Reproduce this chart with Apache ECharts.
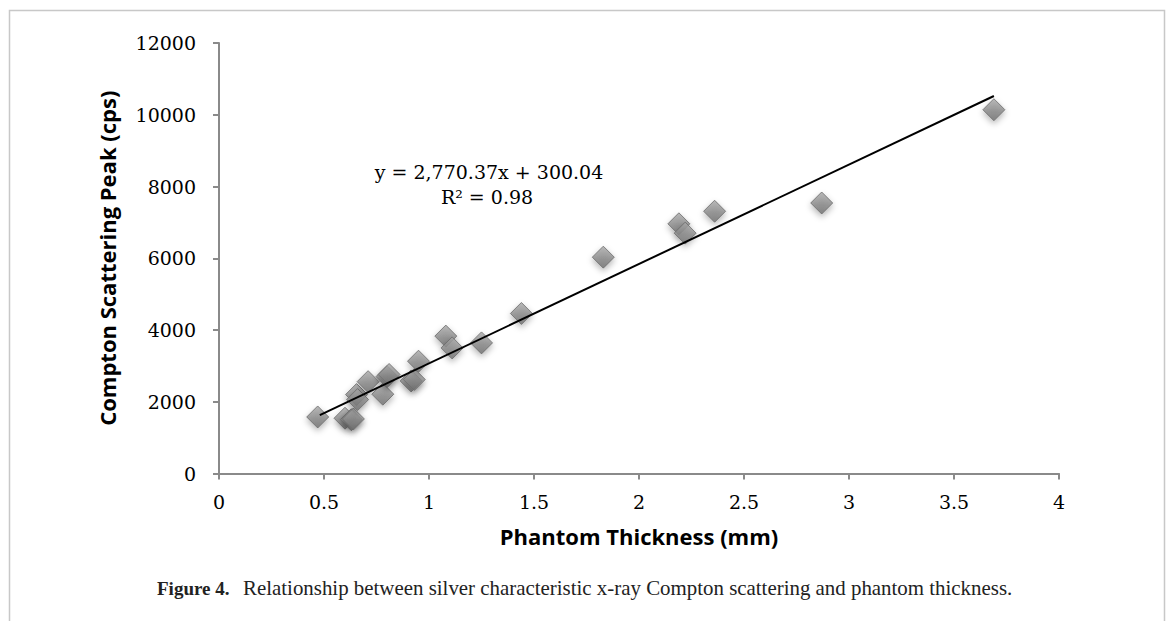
<!DOCTYPE html>
<html>
<head>
<meta charset="utf-8">
<script src="https://cdn.jsdelivr.net/npm/echarts@6/dist/echarts.min.js"></script>
<style>
html,body{margin:0;padding:0;background:#fff;}
#chart{width:1166px;height:621px;}
</style>
</head>
<body>
<div id="chart"></div>
<script>
// ---- data ----
const thickness = [0.47, 0.60, 0.63, 0.64, 0.655, 0.66, 0.71, 0.78, 0.80, 0.81, 0.915, 0.93, 0.95, 1.08, 1.11, 1.25, 1.44, 1.83, 2.19, 2.22, 2.36, 2.87, 3.69];
const peak =      [1575, 1540, 1500, 1520, 2200, 2060, 2560, 2210, 2700, 2760, 2580, 2620, 3130, 3830, 3500, 3640, 4460, 6030, 6960, 6700, 7310, 7540, 10140];
const trendSlope = 2770.37;
const trendIntercept = 300.04;
const trendRange = [0.48, 3.69];
const xTicks = ['0', '0.5', '1', '1.5', '2', '2.5', '3', '3.5', '4'];
const yTicks = ['0', '2000', '4000', '6000', '8000', '10000', '12000'];
const equationText = 'y = 2,770.37x + 300.04';
const r2Text = 'R² = 0.98';
const xName = 'Phantom Thickness (mm)';
const yName = 'Compton Scattering Peak (cps)';
const captionBold = 'Figure 4.';
const captionRest = 'Relationship between silver characteristic x-ray Compton scattering and phantom thickness.';

const points = thickness.map((t, i) => [t, peak[i]]);
const trend = trendRange.map(x => [x, trendSlope * x + trendIntercept]);

const chart = echarts.init(document.getElementById('chart'), null, {renderer: 'svg'});
const serif = '"DejaVu Serif", "Liberation Serif", serif';
const capSerif = '"Liberation Serif", serif';
const sans = '"Open Sans", Lato, sans-serif';

chart.setOption({
  animation: false,
  backgroundColor: '#fff',
  grid: {left: 219, right: 107, top: 43, bottom: 147.5, containLabel: false},
  xAxis: {
    type: 'value', min: 0, max: 4, interval: 0.5,
    name: xName, nameLocation: 'middle', nameGap: 51,
    nameTextStyle: {fontFamily: sans, fontWeight: 'bold', fontSize: 22, color: '#000'},
    axisLine: {show: true, lineStyle: {color: '#8a8a8a', width: 2}},
    axisTick: {show: true, length: 6, lineStyle: {color: '#8a8a8a', width: 2}},
    splitLine: {show: false},
    axisLabel: {fontFamily: serif, fontSize: 19, color: '#000', margin: 19,
      formatter: v => xTicks[Math.round(v / 0.5)]}
  },
  yAxis: {
    type: 'value', min: 0, max: 12000, interval: 2000,
    name: yName, nameLocation: 'middle', nameGap: 101, nameRotate: 90,
    nameMoveOverlap: false,
    nameTextStyle: {fontFamily: sans, fontWeight: 'bold', fontSize: 22, color: '#000'},
    axisLine: {show: true, lineStyle: {color: '#8a8a8a', width: 2}},
    axisTick: {show: true, length: 6, lineStyle: {color: '#8a8a8a', width: 2}},
    splitLine: {show: false},
    axisLabel: {fontFamily: serif, fontSize: 19, color: '#000', margin: 23,
      formatter: v => yTicks[Math.round(v / 2000)]}
  },
  series: [
    {
      type: 'line', data: trend, symbol: 'none', silent: true, z: 3,
      lineStyle: {color: '#000', width: 2}
    },
    {
      type: 'scatter', data: points, symbol: 'diamond', symbolSize: 22, z: 2,
      itemStyle: {
        color: new echarts.graphic.LinearGradient(0, 0, 0, 1, [
          {offset: 0, color: '#a8a8a8'}, {offset: 1, color: '#6e6e6e'}
        ]),
        borderColor: '#6a6a6a', borderWidth: 1,
        shadowBlur: 6, shadowColor: 'rgba(0,0,0,0.35)', shadowOffsetY: 3
      }
    }
  ],
  graphic: [
    {type: 'rect', left: 7, top: 8, z: -10, silent: true,
      shape: {width: 1155, height: 640},
      style: {fill: 'none', stroke: '#c8c8c8', lineWidth: 1.5}},
    {type: 'text', x: 489, y: 172, style: {text: equationText, font: '19px ' + serif, fill: '#000', align: 'center', verticalAlign: 'middle'}},
    {type: 'text', x: 487, y: 197, style: {text: r2Text, font: '19px ' + serif, fill: '#000', align: 'center', verticalAlign: 'middle'}},
    {type: 'text', x: 157, y: 588, style: {text: captionBold, font: 'bold 19px ' + capSerif, fill: '#222', align: 'left', verticalAlign: 'middle'}},
    {type: 'text', x: 243, y: 588, style: {text: captionRest, font: '20.9px ' + capSerif, fill: '#222', align: 'left', verticalAlign: 'middle'}}
  ]
});
</script>
</body>
</html>
